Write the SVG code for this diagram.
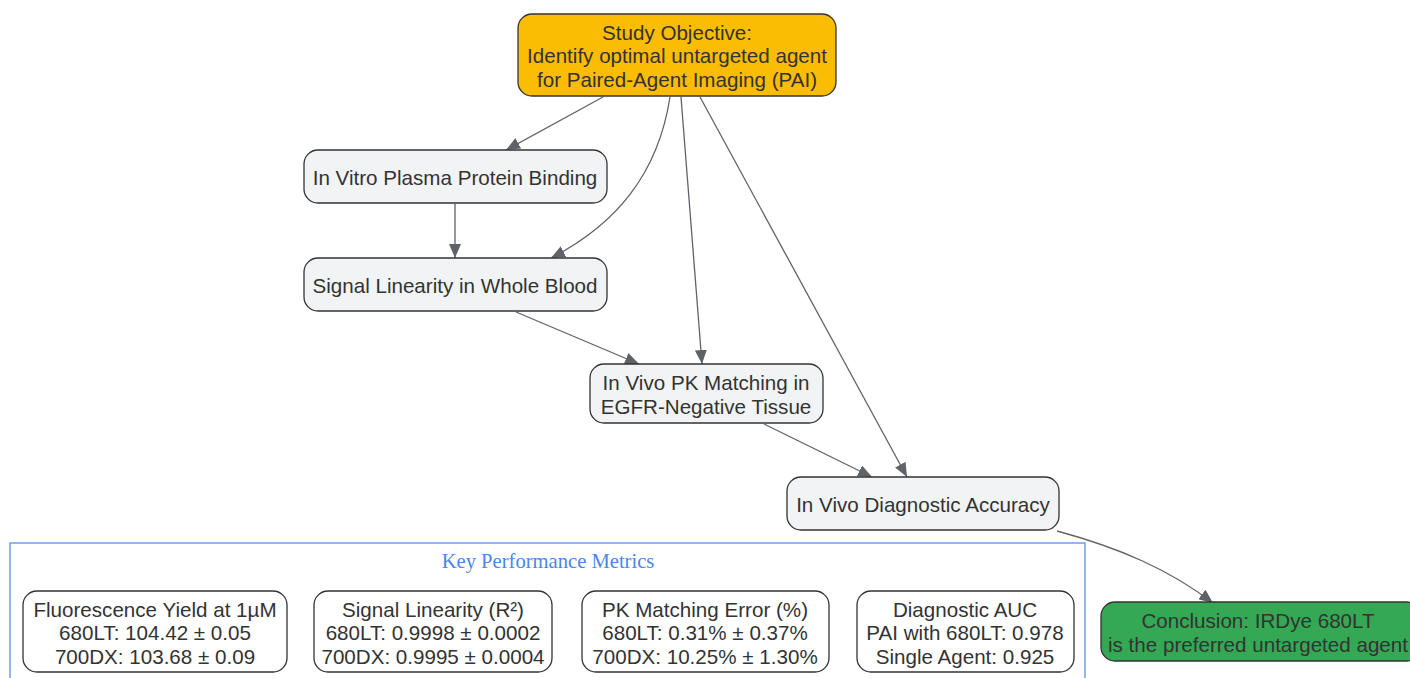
<svg xmlns="http://www.w3.org/2000/svg" width="1410" height="678" viewBox="0 0 1410 678">
<defs>
<marker id="ah" viewBox="0 0 10 10" refX="10" refY="5" markerWidth="14" markerHeight="12" markerUnits="userSpaceOnUse" orient="auto" preserveAspectRatio="none">
<path d="M0,0 L10,5 L0,10 z" fill="#5f6368"/>
</marker>
<style>
.n{fill:#f1f3f4;stroke:#333;stroke-width:1.3}
.m{fill:#fff;stroke:#333;stroke-width:1.3}
.t{font-family:"Liberation Sans",Arial,sans-serif;font-size:20.6px;fill:#333;text-anchor:middle}
.e{fill:none;stroke:#5f6368;stroke-width:1.3;marker-end:url(#ah)}
</style>
</defs>
<rect width="1410" height="678" fill="#fff"/>
<g id="cluster">
<rect x="10" y="543" width="1075" height="150" fill="none" stroke="#5b8def" stroke-width="1.3"/>
<text x="548" y="568" font-family="'Liberation Serif','Times New Roman',serif" font-size="20.6" fill="#4a86e8" text-anchor="middle">Key Performance Metrics</text>
</g>
<g id="edges">
<path class="e" d="M603,97 L506,150"/>
<path class="e" d="M670,97 C658,175 615,225 551,258"/>
<path class="e" d="M681,97 L702,364"/>
<path class="e" d="M700,97 L907,477"/>
<path class="e" d="M455,204 L455,258"/>
<path class="e" d="M516,312 L639,364"/>
<path class="e" d="M764,424 L872,477"/>
<path class="e" d="M1057,531 C1120,548 1170,570 1213,603"/>
</g>
<g id="objective">
<rect x="518" y="14" width="318" height="82" rx="14" fill="#fbbc04" stroke="#333" stroke-width="1.3"/>
<text class="t" x="677" y="40">Study Objective:</text>
<text class="t" x="677" y="63">Identify optimal untargeted agent</text>
<text class="t" x="677" y="87">for Paired-Agent Imaging (PAI)</text>
</g>
<g id="invitro">
<rect class="n" x="304" y="150" width="303" height="53" rx="14"/>
<text class="t" x="455" y="185">In Vitro Plasma Protein Binding</text>
</g>
<g id="linearity">
<rect class="n" x="304" y="258" width="303" height="53" rx="14"/>
<text class="t" x="455" y="293">Signal Linearity in Whole Blood</text>
</g>
<g id="pk">
<rect class="n" x="590" y="364" width="233" height="59" rx="14"/>
<text class="t" x="706" y="390">In Vivo PK Matching in</text>
<text class="t" x="706" y="414">EGFR-Negative Tissue</text>
</g>
<g id="diag">
<rect class="n" x="787" y="477" width="272" height="53" rx="14"/>
<text class="t" x="923" y="512">In Vivo Diagnostic Accuracy</text>
</g>
<g id="conclusion">
<rect x="1101" y="602" width="320" height="59" rx="14" fill="#34a853" stroke="#333" stroke-width="1.3"/>
<text class="t" x="1258" y="628">Conclusion: IRDye 680LT</text>
<text class="t" x="1258" y="652">is the preferred untargeted agent</text>
</g>
<g id="m1">
<rect class="m" x="23" y="591" width="264" height="81" rx="14"/>
<text class="t" x="155" y="617">Fluorescence Yield at 1µM</text>
<text class="t" x="155" y="640">680LT: 104.42 ± 0.05</text>
<text class="t" x="155" y="664">700DX: 103.68 ± 0.09</text>
</g>
<g id="m2">
<rect class="m" x="314" y="591" width="238" height="81" rx="14"/>
<text class="t" x="433" y="617">Signal Linearity (R²)</text>
<text class="t" x="433" y="640">680LT: 0.9998 ± 0.0002</text>
<text class="t" x="433" y="664">700DX: 0.9995 ± 0.0004</text>
</g>
<g id="m3">
<rect class="m" x="582" y="591" width="247" height="81" rx="14"/>
<text class="t" x="705" y="617">PK Matching Error (%)</text>
<text class="t" x="705" y="640">680LT: 0.31% ± 0.37%</text>
<text class="t" x="705" y="664">700DX: 10.25% ± 1.30%</text>
</g>
<g id="m4">
<rect class="m" x="857" y="591" width="217" height="81" rx="14"/>
<text class="t" x="965" y="617">Diagnostic AUC</text>
<text class="t" x="965" y="640">PAI with 680LT: 0.978</text>
<text class="t" x="965" y="664">Single Agent: 0.925</text>
</g>
</svg>
